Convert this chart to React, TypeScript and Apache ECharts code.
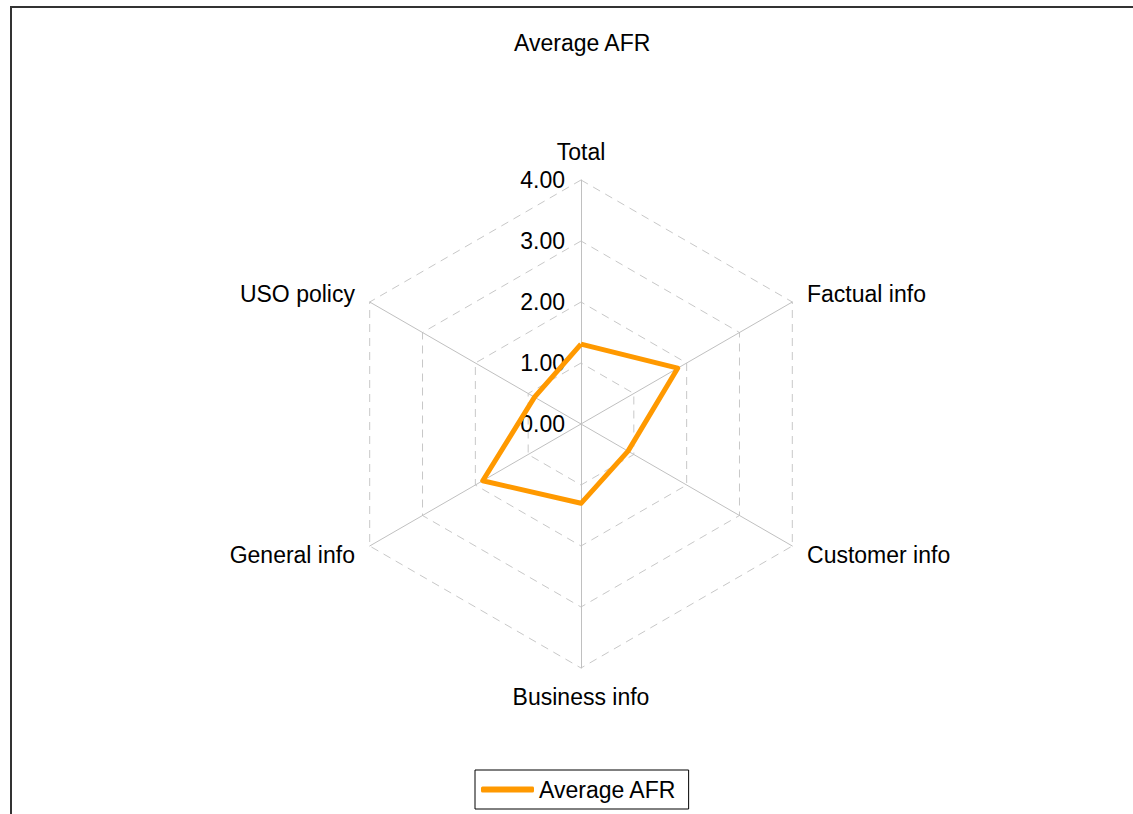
import React, { useEffect, useRef } from "react";
import * as echarts from "echarts";

const indicatorNames = ["Total", "USO policy", "General info", "Business info", "Customer info", "Factual info"];
const seriesValues = [1.31, 0.88, 1.86, 1.3, 0.89, 1.83];
const seriesName = "Average AFR";
const axisMax = 4;
const splitCount = 4;

export default function App() {
  const ref = useRef<HTMLDivElement>(null);
  useEffect(() => {
    const chart = echarts.init(ref.current!, null, { renderer: "svg" });
    const font = "Liberation Sans, Arial, sans-serif";
    const fs = 23;
    chart.setOption({
      animation: false,
      backgroundColor: "#fff",
      title: {
        text: seriesName,
        left: 509,
        top: 26,
        textStyle: { fontFamily: font, fontSize: fs, fontWeight: "normal", color: "#000" },
      },
      graphic: [
        {
          type: "rect",
          shape: { x: 11, y: 7, width: 1200, height: 900 },
          style: { fill: "none", stroke: "#333", lineWidth: 2 },
          silent: true,
        },
      ],
      legend: {
        data: [seriesName],
        left: 475,
        top: 770,
        icon: "roundRect",
        itemWidth: 53,
        itemHeight: 6,
        borderColor: "#000",
        borderWidth: 1,
        padding: [8, 12, 8, 6],
        textStyle: { fontFamily: font, fontSize: fs, color: "#000" },
      },
      radar: {
        center: [581, 424],
        radius: 244,
        startAngle: 90,
        shape: "polygon",
        splitNumber: splitCount,
        nameGap: 17,
        axisName: { color: "#000", fontFamily: font, fontSize: fs },
        indicator: indicatorNames.map((n, i) => ({
          name: n,
          min: 0,
          max: axisMax,
          ...(i === 0
            ? {
                axisLabel: {
                  show: true,
                  formatter: (v: number) => v.toFixed(2),
                  color: "#000",
                  fontFamily: font,
                  fontSize: fs,
                  margin: 16,
                  padding: [0, 0, 5, 0],
                  showMinLabel: true,
                },
              }
            : {}),
        })),
        axisLine: { show: true, lineStyle: { color: "#c0c0c0", width: 1 } },
        splitLine: { show: true, lineStyle: { color: "#c8c8c8", width: 1, type: [8, 6] } },
        splitArea: { show: false },
        axisTick: { show: false },
        axisLabel: { show: false },
      },
      series: [
        {
          type: "radar",
          name: seriesName,
          symbol: "none",
          lineStyle: { color: "#FF9900", width: 5 },
          itemStyle: { color: "#FF9900" },
          data: [{ value: seriesValues, name: seriesName }],
        },
      ],
    });
    return () => chart.dispose();
  }, []);
  return <div ref={ref} style={{ position: "absolute", left: 0, top: 0, width: 1133, height: 814 }} />;
}
